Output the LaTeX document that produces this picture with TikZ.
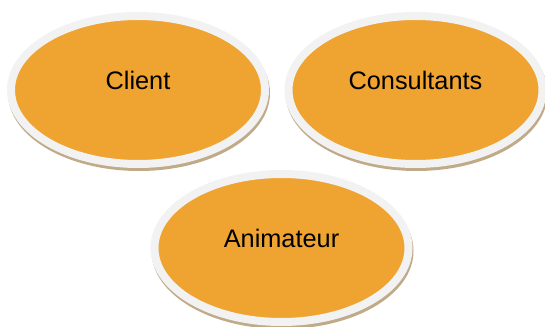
\documentclass[tikz,border=0pt]{standalone}
\usepackage{fontspec}
\setmainfont{Liberation Sans}
\usetikzlibrary{shapes.geometric}
\definecolor{roleorange}{RGB}{239,163,48}
\definecolor{rimgray}{RGB}{242,242,242}
\definecolor{shadowbrown}{RGB}{192,170,136}
\tikzset{
  role/.style={ellipse, fill=roleorange, draw=rimgray, line width=6pt,
    minimum width=190.5pt, minimum height=111pt, inner sep=0pt,
    preaction={draw=shadowbrown, fill=shadowbrown, transform canvas={xshift=0.75pt, yshift=-2.25pt}}},
  rolename/.style={font=\fontsize{19}{23}\selectfont, text=black, yshift=7.5pt}
}
\begin{document}
\begin{tikzpicture}[x=0.75pt,y=0.75pt,yscale=-1,xscale=1]
\useasboundingbox (0,0) rectangle (545,327);

%Ellipse [id:client] 
\node [role, label={[rolename]center:Client}] (client) at (138,90) {};
%Ellipse [id:consultants] 
\node [role, label={[rolename]center:Consultants}] (consultants) at (415.5,90) {};
%Ellipse [id:animateur] 
\node [role, label={[rolename]center:Animateur}] (animateur) at (281.5,248) {};

\end{tikzpicture}
\end{document}
